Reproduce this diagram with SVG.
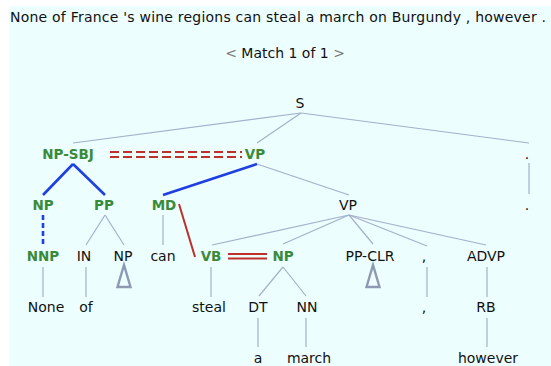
<svg xmlns="http://www.w3.org/2000/svg" width="551" height="366" viewBox="0 0 551 366">
<style>
text{font-family:"DejaVu Sans","Liberation Sans",sans-serif;font-size:14px;fill:#111;text-anchor:middle}
.g{font-weight:bold;fill:#3a8a3a;font-size:13.5px}
.gray{fill:#777}
.e{stroke:#a4b0cc;stroke-width:1.2;fill:none}
.b{stroke:#1f3fe0;stroke-width:2.6;fill:none}
.r{stroke:#c0302a;stroke-width:2;fill:none}
.tri{stroke:#8e9ab4;stroke-width:2.4;fill:none}
</style>
<rect x="9" y="6" width="542" height="360" fill="#ecfefe"/>
<text x="10" y="22" style="text-anchor:start" textLength="536" lengthAdjust="spacing">None of France 's wine regions can steal a march on Burgundy , however .</text>
<text x="285" y="58"><tspan class="gray">&lt;</tspan> Match 1 of 1 <tspan class="gray">&gt;</tspan></text>
<g id="connectors">
<line class="e" x1="301" y1="113" x2="73" y2="143"/>
<line class="e" x1="301" y1="113" x2="257" y2="143"/>
<line class="e" x1="301" y1="113" x2="529" y2="143"/>
<line class="b" x1="73" y1="164" x2="43" y2="195"/>
<line class="b" x1="73" y1="164" x2="105" y2="195"/>
<line class="b" x1="257" y1="164" x2="163" y2="195"/>
<line class="e" x1="257" y1="164" x2="349" y2="195"/>
<line class="e" x1="529" y1="163" x2="529" y2="194"/>
<line class="b" x1="43" y1="215" x2="43" y2="245" stroke-dasharray="5 3" stroke-width="2.4"/>
<line class="e" x1="105" y1="215" x2="86" y2="245"/>
<line class="e" x1="105" y1="215" x2="124" y2="245"/>
<line class="e" x1="163" y1="215" x2="163" y2="245"/>
<line class="r" x1="179" y1="204" x2="195" y2="257"/>
<line class="e" x1="349" y1="215" x2="212" y2="245"/>
<line class="e" x1="349" y1="215" x2="283" y2="244"/>
<line class="e" x1="349" y1="215" x2="373" y2="244"/>
<line class="e" x1="349" y1="215" x2="427" y2="246"/>
<line class="e" x1="349" y1="215" x2="486" y2="245"/>
<line class="e" x1="43" y1="267" x2="43" y2="297"/>
<line class="e" x1="86" y1="267" x2="86" y2="297"/>
<line class="e" x1="211" y1="267" x2="211" y2="297"/>
<line class="e" x1="283" y1="267" x2="259" y2="296"/>
<line class="e" x1="283" y1="267" x2="306" y2="296"/>
<line class="e" x1="427" y1="267" x2="427" y2="297"/>
<line class="e" x1="487" y1="267" x2="487" y2="297"/>
<line class="e" x1="258" y1="318" x2="258" y2="347"/>
<line class="e" x1="306" y1="318" x2="306" y2="347"/>
<line class="e" x1="487" y1="318" x2="487" y2="347"/>
<polygon class="tri" points="124,265 117.5,287 130.5,287"/>
<polygon class="tri" points="373,265 366.5,287 379.5,287"/>
<line class="r" x1="110" y1="152" x2="242" y2="152" stroke-dasharray="9 4"/>
<line class="r" x1="110" y1="157" x2="242" y2="157" stroke-dasharray="9 4"/>
<line class="r" x1="228" y1="254" x2="267" y2="254"/>
<line class="r" x1="228" y1="258.5" x2="267" y2="258.5"/>
</g>
<g id="n_S"><text x="300" y="108">S</text></g>
<g id="n_NPSBJ"><text class="g" x="68" y="159">NP-SBJ</text></g>
<g id="n_VP1"><text class="g" x="255" y="159">VP</text></g>
<g id="n_dot1"><text x="527" y="159">.</text></g>
<g id="n_NP1"><text class="g" x="43" y="210">NP</text></g>
<g id="n_PP"><text class="g" x="104" y="210">PP</text></g>
<g id="n_MD"><text class="g" x="164" y="210">MD</text></g>
<g id="n_VP2"><text x="348" y="210">VP</text></g>
<g id="n_dot2"><text x="527" y="210">.</text></g>
<g id="n_NNP"><text class="g" x="43" y="261">NNP</text></g>
<g id="n_IN"><text x="84" y="261">IN</text></g>
<g id="n_NP2"><text x="123" y="261">NP</text></g>
<g id="n_can"><text x="163" y="261">can</text></g>
<g id="n_VB"><text class="g" x="211" y="261">VB</text></g>
<g id="n_NP3"><text class="g" x="283" y="261">NP</text></g>
<g id="n_PPCLR"><text x="370" y="261">PP-CLR</text></g>
<g id="n_comma1"><text x="424" y="261">,</text></g>
<g id="n_ADVP"><text x="486" y="261">ADVP</text></g>
<g id="n_None"><text x="46" y="312">None</text></g>
<g id="n_of"><text x="86" y="312">of</text></g>
<g id="n_steal"><text x="209" y="312">steal</text></g>
<g id="n_DT"><text x="258" y="312">DT</text></g>
<g id="n_NN"><text x="307" y="312">NN</text></g>
<g id="n_comma2"><text x="424" y="312">,</text></g>
<g id="n_RB"><text x="486" y="312">RB</text></g>
<g id="n_a"><text x="258" y="363">a</text></g>
<g id="n_march"><text x="309" y="363">march</text></g>
<g id="n_however"><text x="488" y="363">however</text></g>
</svg>
